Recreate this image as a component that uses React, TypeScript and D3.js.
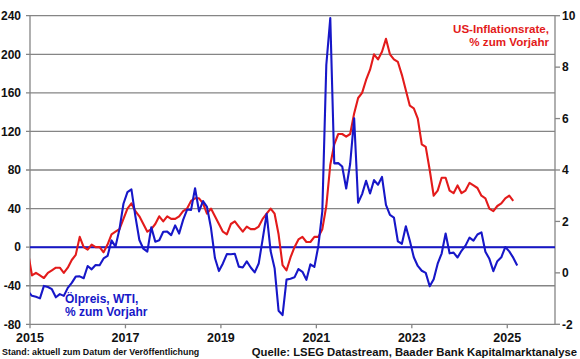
import React from 'react';
import * as d3 from 'd3';

// monthly series, first value = Dec 2014
const startYear = 2014;
const startMonthIndex = 11; // December (0-based)

const cpiValues: number[] = [
  0.8,
  -0.1, 0.0, -0.1, -0.2, 0.0, 0.1, 0.2, 0.2, 0.0, 0.2, 0.5, 0.7,
  1.4, 1.0, 0.9, 1.1, 1.0, 1.0, 0.8, 1.1, 1.5, 1.6, 1.7, 2.1,
  2.5, 2.7, 2.4, 2.2, 1.9, 1.6, 1.7, 1.9, 2.2, 2.0, 2.2, 2.1,
  2.1, 2.2, 2.4, 2.5, 2.8, 2.9, 2.9, 2.7, 2.3, 2.5, 2.2, 1.9,
  1.6, 1.5, 1.9, 2.0, 1.8, 1.6, 1.8, 1.7, 1.7, 1.8, 2.1, 2.3,
  2.5, 2.3, 1.5, 0.3, 0.1, 0.6, 1.0, 1.3, 1.4, 1.2, 1.2, 1.4,
  1.4, 1.7, 2.6, 4.2, 5.0, 5.4, 5.4, 5.3, 5.4, 6.2, 6.8, 7.0,
  7.5, 7.9, 8.5, 8.3, 8.6, 9.1, 8.5, 8.3, 8.2, 7.7, 7.1, 6.5,
  6.4, 6.0, 5.0, 4.9, 4.0, 3.0, 3.2, 3.7, 3.7, 3.2, 3.1, 3.4,
  3.1, 3.2, 3.5, 3.4, 3.3, 3.0, 2.9, 2.5, 2.4, 2.6, 2.7, 2.9,
  3.0, 2.8,
];

const wtiValues: number[] = [
  -45.9,
  -50.5, -51.5, -53.1, -40.2, -41.3, -43.6, -52.0, -48.7, -50.5, -42.2, -37.0, -30.5,
  -30.3, -32.2, -19.5, -23.0, -18.6, -18.7, -11.7, -9.1, 7.0, 0.6, 18.7, 45.0,
  57.1, 60.0, 32.0, 7.4, -1.6, -4.7, 20.6, 5.7, 7.1, 16.0, 16.1, 12.5,
  22.6, 14.1, 28.3, 39.0, 38.7, 61.1, 37.1, 47.8, 41.8, 20.1, -11.3, -24.8,
  -16.9, -7.2, -7.4, -6.8, -20.2, -21.1, -14.8, -21.1, -26.2, -17.0, 8.3, 34.5,
  -4.1, -21.8, -65.9, -70.5, -33.7, -32.8, -31.3, -22.7, -25.6, -33.9, -17.8, -20.5,
  1.2, 37.4, 188.9, 237.5, 86.9, 87.1, 83.6, 60.8, 86.5, 133.5, 46.0, 55.0,
  68.9, 55.6, 69.5, 64.7, 72.9, 43.9, 33.4, 30.7, 5.9, 3.5, 21.7, 6.7,
  -10.5, -19.5, -24.5, -26.7, -40.6, -33.2, -17.1, -6.6, 14.2, -6.4, -5.7, -10.7,
  -3.8, 1.6, 9.9, 6.7, 13.1, 15.4, -4.8, -12.1, -24.9, -14.5, -10.5, 0.1,
  -4.4, -10.9, -19.0,
];

const xTicks = [2015, 2017, 2019, 2021, 2023, 2025];
const leftTicks = [240, 200, 160, 120, 80, 40, 0, -40, -80];
const rightTicks = [10, 8, 6, 4, 2, 0, -2];

const RED = '#e31b1b';
const BLUE = '#1717c8';
const GRID = '#858585';
const FONT = '"Liberation Sans", Arial, sans-serif';

const L = 30, R = 555, T = 15.7, B = 324.3;

export default function App() {
  const x = d3.scaleLinear().domain([2015, 2026]).range([L, R]);
  const yL = d3.scaleLinear().domain([-80, 240]).range([B, T]);
  const yR = d3.scaleLinear().domain([-2, 10]).range([B, T]);
  const t = (i: number) => startYear + (startMonthIndex + i + 0.5) / 12;

  const cpiLine = d3.line<number>().x((_, i) => x(t(i))).y((v) => yR(v))(cpiValues) || '';
  const wtiLine = d3.line<number>().x((_, i) => x(t(i))).y((v) => yL(v))(wtiValues) || '';

  return (
    <svg width={580} height={359} style={{ position: 'absolute', left: 0, top: 0, background: '#fff' }}
      fontFamily={FONT} fontWeight="bold">
      <defs>
        <clipPath id="plot"><rect x={L} y={T - 5} width={R - L} height={B - T + 5} /></clipPath>
      </defs>
      {leftTicks.map((v) => (
        <g key={'l' + v}>
          <line x1={L - 4} x2={R} y1={yL(v)} y2={yL(v)} stroke={GRID} strokeWidth={1.3} />
          <text x={21} y={yL(v)} dy="0.36em" textAnchor="end" fontSize={12} fill="#111">{v}</text>
        </g>
      ))}
      {rightTicks.map((v) => (
        <g key={'r' + v}>
          <line x1={R} x2={R + 5} y1={yR(v)} y2={yR(v)} stroke={GRID} strokeWidth={1.3} />
          <text x={562} y={yR(v)} dy="0.36em" textAnchor="start" fontSize={12} fill="#111">{v}</text>
        </g>
      ))}
      <line x1={L} x2={L} y1={T} y2={B} stroke={GRID} strokeWidth={1.3} />
      <line x1={R} x2={R} y1={T} y2={B} stroke={GRID} strokeWidth={1.3} />
      {xTicks.map((v) => (
        <g key={'x' + v}>
          <line x1={x(v)} x2={x(v)} y1={B} y2={B + 4} stroke={GRID} strokeWidth={1.3} />
          <text x={x(v)} y={342} textAnchor="middle" fontSize={12.5} fill="#111">{v}</text>
        </g>
      ))}
      <line x1={L} x2={R} y1={yL(0)} y2={yL(0)} stroke={BLUE} strokeWidth={2} />
      <g clipPath="url(#plot)">
        <path d={cpiLine} fill="none" stroke={RED} strokeWidth={2.1} strokeLinejoin="round" />
        <path d={wtiLine} fill="none" stroke={BLUE} strokeWidth={2.1} strokeLinejoin="round" />
      </g>
      <text x={549} y={33} textAnchor="end" fontSize={11.6} fill={RED}>US-Inflationsrate,</text>
      <text x={549} y={45.5} textAnchor="end" fontSize={11.6} fill={RED}>% zum Vorjahr</text>
      <text x={65} y={302.5} textAnchor="start" fontSize={12} fill={BLUE}>Ölpreis, WTI,</text>
      <text x={65} y={316} textAnchor="start" fontSize={12} fill={BLUE}>% zum Vorjahr</text>
      <text x={2} y={355} fontSize={8.9} fill="#111">Stand: aktuell zum Datum der Veröffentlichung</text>
      <text x={577} y={355.5} textAnchor="end" fontSize={11.3} fill="#111">Quelle: LSEG Datastream, Baader Bank Kapitalmarktanalyse</text>
    </svg>
  );
}
